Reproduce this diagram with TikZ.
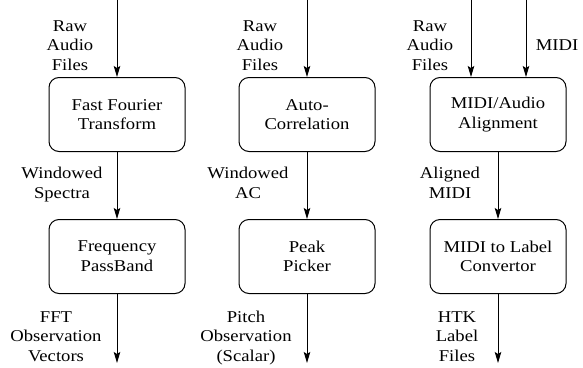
\documentclass[tikz,border=0pt]{standalone}
\usepackage{fontspec}
\setmainfont[FakeStretch=1.13]{Liberation Serif}
\usetikzlibrary{arrows.meta}
% centred stack of lines whose baseline is the first line's baseline
\newcommand\txtlines[1]{\begin{tabular}[t]{@{}c@{}}#1\end{tabular}}

\begin{document}
\begin{tikzpicture}[x=1pt,y=-1pt,
  every node/.style={font=\fontsize{16.5}{19.7}\selectfont},
  procbox/.style={draw, line width=1pt, rounded corners=10pt,
    minimum width=136pt, minimum height=74pt, align=center, inner sep=0pt},
  lbl/.style={anchor=base, inner sep=0pt},
  flow/.style={line width=0.9pt, -{Stealth[length=11pt,width=6.5pt,inset=2pt]}}]
\useasboundingbox (0,0) rectangle (583,367);

% column 1: spectral features
\node[procbox] (fft)  at (117,114.5) {Fast Fourier\\Transform};
\node[procbox] (band) at (117,256.5) {Frequency\\PassBand};
\coordinate (in1)  at (117,0);
\coordinate (out1) at (117,363);
\draw[flow] (in1) -- (fft);
\draw[flow] (fft) -- (band);
\draw[flow] (band) -- (out1);
\node[lbl] (l1a) at (70,31)    {\txtlines{Raw\\Audio\\Files}};
\node[lbl] (l1b) at (62,178.5) {\txtlines{Windowed\\Spectra}};
\node[lbl] (l1c) at (56,322)   {\txtlines{FFT\\Observation\\Vectors}};

% column 2: pitch
\node[procbox] (acorr) at (307,114.5) {Auto-\\Correlation};
\node[procbox] (peak)  at (307,256.5) {Peak\\Picker};
\coordinate (in2)  at (307,0);
\coordinate (out2) at (307,363);
\draw[flow] (in2) -- (acorr);
\draw[flow] (acorr) -- (peak);
\draw[flow] (peak) -- (out2);
\node[lbl] (l2a) at (260,31)    {\txtlines{Raw\\Audio\\Files}};
\node[lbl] (l2b) at (248,178.5) {\txtlines{Windowed\\AC}};
\node[lbl] (l2c) at (246,322)   {\txtlines{Pitch\\Observation\\(Scalar)}};

% column 3: labels from MIDI
\node[procbox] (align) at (498,114.5) {MIDI/Audio\\Alignment};
\node[procbox] (conv)  at (498,256.5) {MIDI to Label\\Convertor};
\coordinate (in3a) at (471,0);
\coordinate (in3b) at (526,0);
\coordinate (out3) at (498,363);
\draw[flow] (in3a) -- (in3a |- align.north);
\draw[flow] (in3b) -- (in3b |- align.north);
\draw[flow] (align) -- (conv);
\draw[flow] (conv) -- (out3);
\node[lbl] (l3a) at (430,31)    {\txtlines{Raw\\Audio\\Files}};
\node[lbl] (l3m) at (557,50.5)  {MIDI};
\node[lbl] (l3b) at (450,178.5) {\txtlines{Aligned\\MIDI}};
\node[lbl] (l3c) at (457,322)   {\txtlines{HTK\\Label\\Files}};
\end{tikzpicture}
\end{document}
